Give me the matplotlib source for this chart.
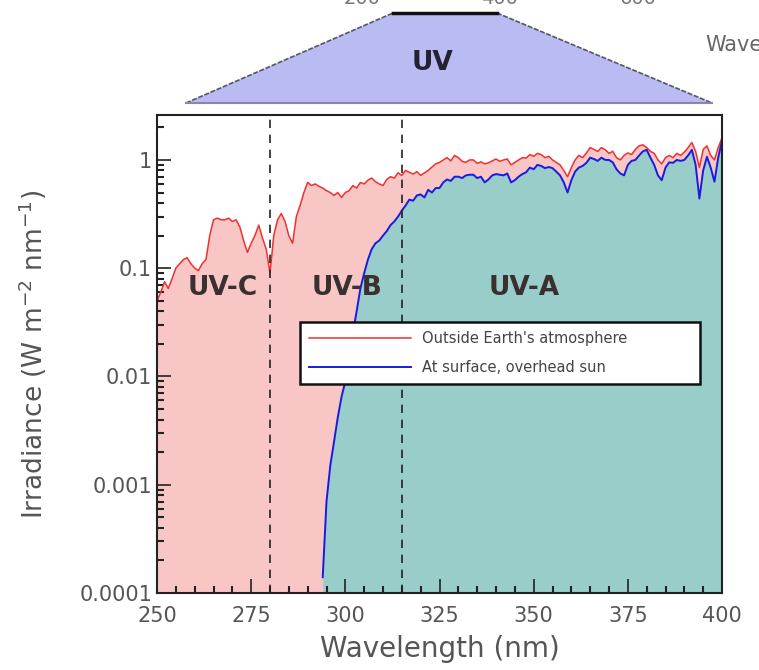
import numpy as np
import matplotlib.pyplot as plt
from matplotlib.patches import Polygon
from matplotlib.ticker import MultipleLocator, LogLocator, FixedFormatter, FixedLocator

# spectral irradiance (W m-2 nm-1), 1 nm steps
wl_out = np.arange(250, 401)
irr_out = [
    0.05, 0.06, 0.075, 0.065, 0.08, 0.1, 0.11, 0.12, 0.125, 0.11,
    0.1, 0.095, 0.11, 0.12, 0.2, 0.28, 0.29, 0.28, 0.28, 0.29,
    0.27, 0.28, 0.24, 0.18, 0.14, 0.17, 0.2, 0.25, 0.19, 0.15,
    0.09, 0.2, 0.28, 0.32, 0.27, 0.2, 0.17, 0.3, 0.38, 0.5,
    0.62, 0.58, 0.6, 0.57, 0.55, 0.52, 0.5, 0.47, 0.5, 0.45,
    0.5, 0.52, 0.58, 0.55, 0.62, 0.6, 0.65, 0.68, 0.63, 0.6,
    0.58, 0.66, 0.7, 0.68, 0.76, 0.72, 0.8, 0.77, 0.74, 0.78,
    0.72, 0.76, 0.8, 0.86, 0.92, 0.95, 1.0, 1.05, 0.98, 1.1,
    1.05, 0.97, 0.95, 1.0, 1.0, 0.93, 0.96, 0.92, 0.94, 0.98,
    1.02, 0.97, 1.0, 1.02, 0.9, 0.95, 1.0, 1.05, 1.04, 1.12,
    1.08, 1.15, 1.12, 1.05, 1.08, 1.0, 0.95, 0.9, 0.8, 0.7,
    0.85, 1.0, 1.1, 1.05, 1.16, 1.3, 1.25, 1.2, 1.3, 1.24,
    1.15, 1.2, 1.05, 1.0, 1.1, 1.16, 1.12, 1.25, 1.35, 1.38,
    1.3, 1.2, 1.15, 1.0, 0.92, 1.05, 1.1, 1.05, 1.15, 1.1,
    1.18, 1.3, 1.45, 1.2, 0.85, 1.25, 1.35, 1.1, 1.0, 1.3,
    1.6,
]

wl_sfc = np.arange(294, 401)
irr_sfc = [
    0.00014, 0.0007, 0.0015, 0.0025, 0.0042, 0.0065,
    0.009, 0.014, 0.025, 0.04, 0.065, 0.09, 0.12, 0.15, 0.17, 0.18,
    0.2, 0.22, 0.25, 0.27, 0.3, 0.34, 0.38, 0.43, 0.42, 0.47,
    0.48, 0.45, 0.53, 0.5, 0.55, 0.55, 0.62, 0.66, 0.64, 0.7,
    0.7, 0.68, 0.72, 0.73, 0.73, 0.68, 0.7, 0.62, 0.66, 0.72,
    0.74, 0.73, 0.72, 0.75, 0.62, 0.65, 0.7, 0.74, 0.77, 0.85,
    0.82, 0.9, 0.88, 0.84, 0.86, 0.84, 0.78, 0.72, 0.62, 0.5,
    0.65, 0.78, 0.85, 0.88, 0.94, 1.05, 1.02, 0.98, 1.05, 1.0,
    1.0, 0.95, 0.82, 0.75, 0.72, 0.9, 0.98, 1.0, 1.1, 1.2,
    1.24, 1.05, 0.9, 0.72, 0.65, 0.85, 0.95, 0.94, 1.0, 0.98,
    1.0, 1.1, 1.24, 0.9, 0.44, 0.8, 1.07, 0.85, 0.63, 1.05,
    1.5,
]

band_edges = [280, 315]
band_names = ['UV-C', 'UV-B', 'UV-A']
band_label_x = [267.5, 300.5, 347.5]
ytick_vals = [0.0001, 0.001, 0.01, 0.1, 1]
ytick_text = ['0.0001', '0.001', '0.01', '0.1', '1']
top_labels = ['200', '400', '600', '800']

W, H = 759, 670
fig = plt.figure(figsize=(W / 100, H / 100), dpi=100)

# spectrum strip on top (pixel coords overlay)
deco = fig.add_axes([0, 0, 1, 1])
deco.set_xlim(0, W)
deco.set_ylim(H, 0)
deco.axis('off')
trap = Polygon([[186, 103], [393, 13], [497, 13], [712, 103]], closed=True,
               facecolor='#bbbbf3', edgecolor='none')
deco.add_patch(trap)
deco.plot([186, 393], [103, 13], color='#555566', lw=1.2, ls=(0, (3, 1)))
deco.plot([497, 712], [13, 103], color='#555566', lw=1.2, ls=(0, (3, 1)))
deco.plot([393, 497], [13, 13], color='#111111', lw=2.5)
deco.plot([186, 712], [103, 103], color='#8888aa', lw=1.5)
deco.text(433, 63, 'UV', fontsize=19, fontweight='bold', color='#222233',
          ha='center', va='center')
deco.text(705, 45, 'Wavelength', fontsize=15, color='#666666', ha='left', va='center')
for i, lab in enumerate(top_labels):
    deco.text(362 + 138 * i, -1, lab, fontsize=14, color='#777777', ha='center', va='center')

ax = fig.add_axes([157 / W, 1 - 593 / H, 565 / W, 478 / H])
ax.fill_between(wl_out, irr_out, 1e-6, color='#f9c6c6', lw=0)
ax.fill_between(wl_sfc, irr_sfc, 1e-6, color='#98cdca', lw=0)
ax.plot(wl_out, irr_out, color='#f03030', lw=1.1, label="Outside Earth's atmosphere")
ax.plot(wl_sfc, irr_sfc, color='#1a1adf', lw=1.4, label='At surface, overhead sun')

for x in band_edges:
    ax.axvline(x, color='#222222', lw=1.2, ls=(0, (5, 4)))

for name, x in zip(band_names, band_label_x):
    ax.text(x, 0.066, name, fontsize=19, fontweight='bold', color='#3a3030',
            ha='center', va='center')

ax.set_yscale('log')
ax.set_xlim(250, 400)
ax.set_ylim(1e-4, 2.6)
ax.xaxis.set_major_locator(MultipleLocator(25))
ax.xaxis.set_minor_locator(MultipleLocator(5))
ax.yaxis.set_major_locator(FixedLocator(ytick_vals))
ax.yaxis.set_major_formatter(FixedFormatter(ytick_text))
ax.yaxis.set_minor_locator(LogLocator(base=10, subs=np.arange(2, 10)))
ax.tick_params(which='both', direction='in', colors='#222222', labelcolor='#555555',
               labelsize=15, top=False, right=False)
ax.tick_params(which='major', length=10, width=1.2)
ax.tick_params(axis='x', which='major', pad=9)
ax.tick_params(which='minor', length=5, width=1.5)
for s in ax.spines.values():
    s.set_color('#222222')
    s.set_linewidth(1.5)

ax.set_xlabel('Wavelength (nm)', fontsize=20, color='#555555', labelpad=7)
ax.set_ylabel(r'Irradiance (W m$^{-2}$ nm$^{-1}$)', fontsize=19, color='#555555', labelpad=22)

leg = ax.legend(loc='upper left', bbox_to_anchor=(0.253, 0.467, 0.708, 0.1), mode='expand',
                borderaxespad=0, fontsize=10.5, handlelength=7, labelspacing=1.0,
                borderpad=0.6, fancybox=False, framealpha=1, edgecolor='#111111')
leg.get_frame().set_linewidth(1.8)
for t in leg.get_texts():
    t.set_color('#444444')

fig.savefig('out.png', dpi=100)
